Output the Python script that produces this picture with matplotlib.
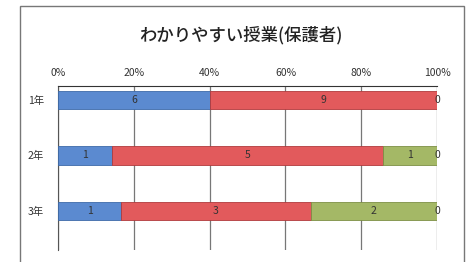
import matplotlib
matplotlib.use("Agg")
import matplotlib.pyplot as plt
from matplotlib.patches import Rectangle
import numpy as np

plt.rcParams['font.family'] = ['Noto Sans CJK JP', 'DejaVu Sans']

# data
grades = ['1年', '2年', '3年']
s1 = [6, 1, 1]   # blue
s2 = [9, 5, 3]   # red
s3 = [0, 1, 2]   # green
s4 = [0, 0, 0]   # last segment, labelled 0
series = [s1, s2, s3, s4]
colors = ['#5b8ad0', '#e25a5c', '#a4b866', '#c8c8c8']
edges = ['#3d6aa8', '#b03a3c', '#7d8f45', '#888888']
tick_labels = ['0%', '20%', '40%', '60%', '80%', '100%']

totals = np.sum(series, axis=0)

fig = plt.figure(figsize=(4.68, 2.62), dpi=100)
fig.patch.set_facecolor('white')
fig.patches.append(Rectangle((0.043, -0.05), 0.948, 1.027, transform=fig.transFigure,
                             fill=False, edgecolor='#777777', linewidth=1.0))

fig.text(0.515, 0.865, 'わかりやすい授業(保護者)', ha='center', va='center',
         fontsize=12.5, fontweight='medium', color='#222222')

ax = fig.add_axes([0.124, 0.046, 0.81, 0.626])
y = np.arange(len(grades))
left = np.zeros(len(grades))
for k, (vals, c, ec) in enumerate(zip(series, colors, edges)):
    pct = np.array(vals) / totals
    ax.barh(y, pct, left=left, height=0.33, color=c, edgecolor=ec, linewidth=0.6, zorder=3)
    for yi, l, p, v in zip(y, left, pct, vals):
        # zero segments only show their label on the last series
        if v == 0 and k != len(series) - 1:
            continue
        ax.text(l + p / 2, yi, str(v), ha='center', va='center', fontsize=7.5,
                color='#333333', zorder=4)
    left = left + pct

ax.set_xlim(0, 1)
ax.set_ylim(2.7, -0.25)
ax.xaxis.tick_top()
ax.set_xticks(np.linspace(0, 1, 6))
ax.set_xticklabels(tick_labels, fontsize=7.5, color='#333333')
ax.set_yticks(y)
ax.set_yticklabels(grades, fontsize=7.5, color='#333333')
ax.tick_params(axis='x', length=0, pad=6)
ax.tick_params(axis='y', length=0, pad=10)
ax.grid(axis='x', color='#777777', linewidth=0.9, zorder=0)
for s in ['right', 'bottom']:
    ax.spines[s].set_visible(False)
ax.spines['top'].set_color('#333333')
ax.spines['left'].set_color('#555555')

fig.savefig('out.png', dpi=100)
